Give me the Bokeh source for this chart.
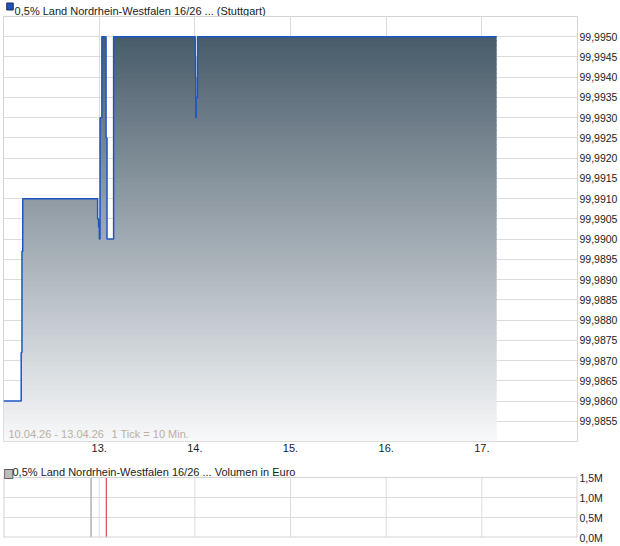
import numpy as np
from bokeh.plotting import figure
from bokeh.layouts import column
from bokeh.models import Range1d, FixedTicker, Label
from bokeh.core.properties import value
from bokeh.embed import file_html
from bokeh.resources import INLINE

# ---- data ----
title_main = "0,5% Land Nordrhein-Westfalen 16/26 ... (Stuttgart)"
title_vol = "0,5% Land Nordrhein-Westfalen 16/26 ... Volumen in Euro"
info_range = "10.04.26 - 13.04.26"
info_tick = "1 Tick = 10 Min."

# step points (day of month, price) - value holds until next point
price_x = [12.000, 12.185, 12.193, 12.201, 12.984, 12.994, 13.002, 13.009, 13.028,
           13.072, 13.082, 13.151, 14.004, 14.007, 14.010, 14.014, 14.028, 17.155]
price_y = [99.9860, 99.9872, 99.9897, 99.9910, 99.9905, 99.9903, 99.9900, 99.9930, 99.9950,
           99.9925, 99.9900, 99.9950, 99.9945, 99.9940, 99.9930, 99.9935, 99.9950, 99.9950]

vol_x = [12.915, 13.075]
vol_val = [1.5e6, 1.5e6]
vol_colors = ["#b4b4b4", "#e05555"]

x_ticks = [13, 14, 15, 16, 17]
x_tick_labels = ["13.", "14.", "15.", "16.", "17."]

y_tick_labels = ["99,9855", "99,9860", "99,9865", "99,9870", "99,9875", "99,9880", "99,9885",
                 "99,9890", "99,9895", "99,9900", "99,9905", "99,9910", "99,9915", "99,9920",
                 "99,9925", "99,9930", "99,9935", "99,9940", "99,9945", "99,9950"]
y_ticks = [float(s.replace(",", ".")) for s in y_tick_labels]

vol_ticks = [0, 500000, 1000000, 1500000]
vol_tick_labels = ["0,0M", "0,5M", "1,0M", "1,5M"]

FONT = "Liberation Sans"
GRID = "#dcdcdc"
BORDER = "#d4d4d4"
W = 620
x_lo, x_hi = 12, 18
y_lo, y_hi = 99.9850, 99.9955
v_lo, v_hi = 0, 1500000


def style_axis(ax, size="11px", standoff=2):
    ax.axis_line_color = None
    ax.major_tick_line_color = None
    ax.minor_tick_line_color = None
    ax.major_tick_out = 0
    ax.major_tick_in = 0
    ax.major_label_standoff = standoff
    ax.major_label_text_font = FONT
    ax.major_label_text_font_size = size
    ax.major_label_text_color = "#222222"


# ---- header of the price chart ----
h1 = figure(width=W, height=16, output_backend="svg", toolbar_location=None,
            x_range=Range1d(0, W), y_range=Range1d(16, 0),
            x_axis_location=None, y_axis_location=None, min_border=0)
h1.outline_line_color = None
h1.grid.visible = False
h1.quad(left=[3.5], right=[10.5], top=[2.5], bottom=[9.5],
        fill_color="#2052bd", line_color="#1b2b5a", line_width=1)
h1.text(x=[12], y=[10], text=[title_main], text_baseline="alphabetic",
        text_font=value(FONT), text_font_size=value("11px"), text_color="#222222")

# ---- main price chart ----
p = figure(width=W, height=440, output_backend="svg", toolbar_location=None,
           x_range=Range1d(x_lo, x_hi), y_range=Range1d(y_lo, y_hi),
           y_axis_location="right", min_border_left=3, min_border_right=42,
           min_border_top=0, min_border_bottom=15)
p.outline_line_color = BORDER
p.background_fill_color = "white"
p.border_fill_color = "white"

# gradient area under the step line (horizontal colour bands)
top_rgb = np.array([64, 84, 99])
bot_rgb = np.array([248, 249, 250])
nb = 90
edges = np.linspace(y_lo, y_hi, nb + 1)
px = np.array(price_x)
pv = np.array(price_y)
eps = (y_hi - y_lo) / 425 * 0.8
for i in range(nb):
    a, b = edges[i], edges[i + 1]
    t = ((a + b) / 2 - y_lo) / (y_hi - y_lo)
    c = bot_rgb + t * (top_rgb - bot_rgb)
    col = "#%02x%02x%02x" % tuple(int(round(v)) for v in c)
    y2 = np.clip(pv, a, b)
    y1 = np.where(pv > a, a - (eps if i else 0), a)
    p.varea_step(x=px, y1=y1, y2=y2, step_mode="after", fill_color=col)

p.step(price_x, price_y, mode="after", line_color="#1c55c6", line_width=1.5)

p.add_layout(Label(x=x_lo, y=y_lo, x_offset=5, y_offset=2, text=info_range,
                   text_baseline="bottom", text_font=FONT, text_font_size="11px",
                   text_color="#bab09f"))
p.add_layout(Label(x=x_lo, y=y_lo, x_offset=108, y_offset=2, text=info_tick,
                   text_baseline="bottom", text_font=FONT, text_font_size="11px",
                   text_color="#bab09f"))

p.xaxis.ticker = FixedTicker(ticks=x_ticks)
p.xaxis.major_label_overrides = dict(zip(x_ticks, x_tick_labels))
p.yaxis.ticker = FixedTicker(ticks=y_ticks)
p.yaxis.major_label_overrides = dict(zip(y_ticks, y_tick_labels))
style_axis(p.xaxis, "11px", 2)
style_axis(p.yaxis, "10.5px", 2)
p.xgrid.grid_line_color = GRID
p.ygrid.grid_line_color = GRID

# ---- volume chart (frame reaches up into the header row) ----
# 60 px of box for 1.5M, 81 px of frame -> headroom above the box for the title
v_view_top = v_hi * 81 / 60
p2 = figure(width=W, height=90, output_backend="svg", toolbar_location=None,
            x_range=Range1d(x_lo, x_hi), y_range=Range1d(v_lo, v_view_top),
            y_axis_location="right", x_axis_location=None,
            min_border_left=3, min_border_right=42, min_border_top=0, min_border_bottom=9)
p2.outline_line_color = None
p2.background_fill_color = "white"
p2.border_fill_color = "white"
p2.xgrid.visible = False
p2.ygrid.grid_line_color = GRID

# vertical grid lines only inside the box
p2.segment(x0=x_ticks, y0=[v_lo] * len(x_ticks), x1=x_ticks, y1=[v_hi] * len(x_ticks),
           line_color=GRID, line_width=1, level="underlay")

p2.vbar(x=vol_x, top=vol_val, bottom=0, width=0.001, fill_color=vol_colors,
        line_color=vol_colors, line_width=1)

# box border (edges on the frame edge drawn 2px wide so 1px shows)
p2.segment(x0=[x_lo, x_hi, x_lo, x_lo], y0=[v_lo, v_lo, v_lo, v_hi],
           x1=[x_lo, x_hi, x_hi, x_hi], y1=[v_hi, v_hi, v_lo, v_hi],
           line_color=BORDER, line_width=[2, 2, 2, 1])

# title swatch + text above the box
p2.add_layout(Label(x=x_lo, y=v_hi, x_offset=-0.5, y_offset=5, text="\u25a0",
                    text_baseline="alphabetic", text_font="DejaVu Sans",
                    text_font_size="12px", text_color="#bdbdbd"))
p2.add_layout(Label(x=x_lo, y=v_hi, x_offset=-0.5, y_offset=5, text="\u25a1",
                    text_baseline="alphabetic", text_font="DejaVu Sans",
                    text_font_size="12px", text_color="#444444"))
p2.add_layout(Label(x=x_lo, y=v_hi, x_offset=9, y_offset=6, text=title_vol,
                    text_baseline="alphabetic", text_font=FONT,
                    text_font_size="11px", text_color="#222222"))

p2.yaxis.ticker = FixedTicker(ticks=vol_ticks)
p2.yaxis.major_label_overrides = dict(zip(vol_ticks, vol_tick_labels))
style_axis(p2.yaxis, "10.5px", 2)

layout = column(h1, p, p2, spacing=0)
open("out.html", "w").write(file_html(layout, INLINE))
